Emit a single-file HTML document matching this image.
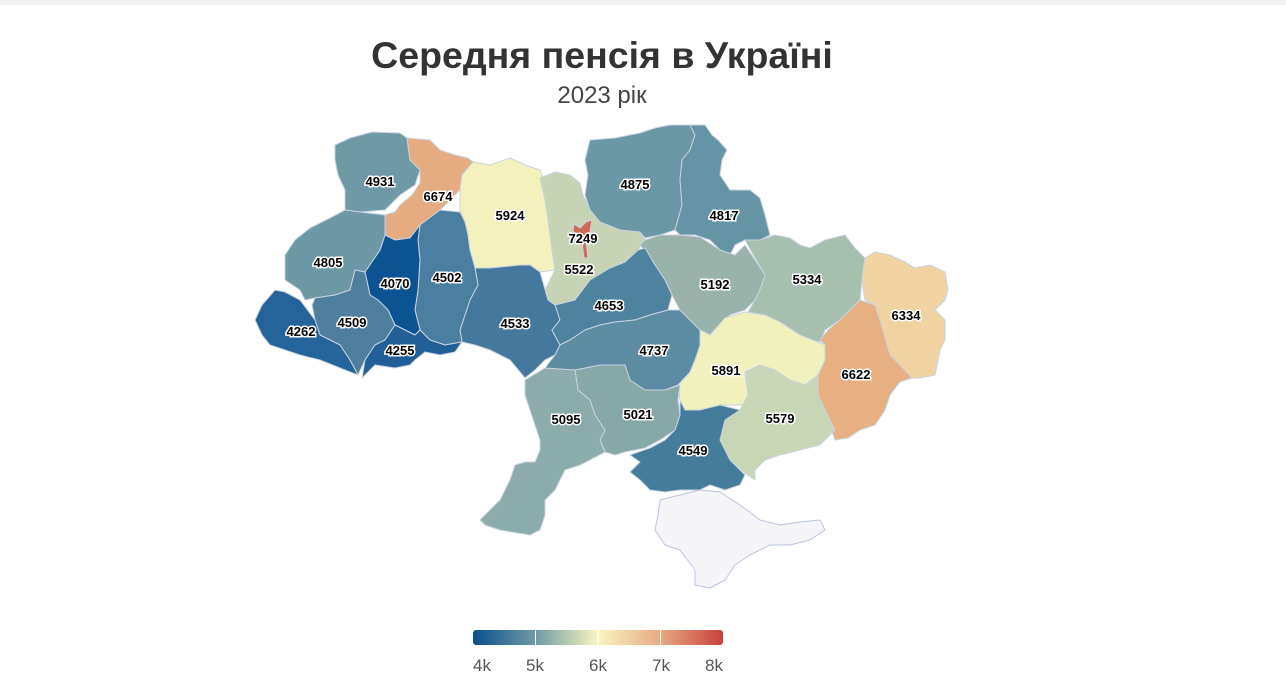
<!DOCTYPE html>
<html><head><meta charset="utf-8"><style>
html,body{margin:0;padding:0;background:#fff;width:1286px;height:684px;overflow:hidden;font-family:"Liberation Sans",sans-serif}
</style></head><body>
<div style="position:absolute;top:0;left:0;width:1286px;height:5px;background:#f3f3f3"></div>
<svg width="1286" height="684" style="position:absolute;top:0;left:0">
<defs><linearGradient id="g" x1="0" x2="1"><stop offset="0" stop-color="#0b4f8e"/><stop offset="0.25" stop-color="#6f9aa5"/><stop offset="0.5" stop-color="#f8f6c0"/><stop offset="0.75" stop-color="#e8a982"/><stop offset="1" stop-color="#c8413a"/></linearGradient></defs>
<text x="602" y="68" text-anchor="middle" font-size="37.5" font-weight="bold" fill="#333">Середня пенсія в Україні</text>
<text x="602" y="103" text-anchor="middle" font-size="24" fill="#444">2023 рік</text>
<g stroke="#c9d3e0" stroke-width="1" stroke-linejoin="round">
<polygon fill="#f5f5f7" stroke="#b8c4e0" points="660,500 680,495 700,490 720,492 740,505 760,520 780,525 800,522 820,520 825,530 810,540 790,545 770,545 750,555 735,565 725,580 710,588 695,585 695,570 680,550 665,545 655,530 658,515"/>
<polygon fill="#6f9aa5" points="335,145 350,138 372,132 400,133 407,138 410,160 420,170 415,185 400,195 385,210 360,212 345,210 345,190 338,175 335,160"/>
<polygon fill="#e5ac82" points="407,138 430,140 440,150 455,155 468,158 473,162 462,175 460,190 450,200 440,210 430,220 420,225 410,238 395,240 385,235 385,215 395,212 400,205 412,195 420,183 420,170 410,160"/>
<polygon fill="#f3f2bd" points="473,162 490,165 510,158 525,165 540,170 545,185 548,205 550,225 552,250 555,270 540,272 530,265 520,265 490,268 475,268 470,250 468,235 465,222 460,210 460,190 462,175"/>
<polygon fill="#c6d3b5" points="540,178 555,172 570,175 580,183 583,195 590,210 600,222 615,228 630,228 640,232 645,240 638,250 625,262 610,268 590,280 575,300 555,305 548,300 545,290 555,270 552,250 548,220 545,200"/>
<polygon fill="#cf6b55" points="574,224 580,228 586,222 592,220 590,232 586,240 588,258 584,258 582,242 576,238 573,230"/>
<polygon fill="#6a98a4" points="590,140 615,138 640,133 655,128 670,125 690,125 695,135 690,150 682,160 680,180 682,205 675,230 660,235 645,238 640,232 620,230 600,222 590,210 585,195 588,175 585,160"/>
<polygon fill="#6595a5" points="690,125 705,125 712,135 718,140 727,150 722,160 720,175 730,190 750,190 760,198 765,215 770,235 760,240 745,240 735,245 730,255 720,250 710,240 695,235 680,235 675,230 682,205 680,180 682,160 690,150 695,135"/>
<polygon fill="#99b3ab" points="645,240 660,235 680,235 700,237 720,250 735,255 745,245 755,260 765,275 760,290 755,300 745,310 730,315 715,330 710,335 700,330 690,320 680,310 672,295 665,280 655,265 648,255 640,245"/>
<polygon fill="#a6bfae" points="745,240 760,240 775,235 790,238 800,245 810,248 825,240 845,235 855,248 865,258 862,280 860,300 840,320 825,330 820,342 810,340 798,335 780,322 765,315 748,312 755,300 762,285 765,275 755,258"/>
<polygon fill="#f1d3a1" points="865,258 875,252 890,255 905,262 915,268 930,265 945,272 948,290 945,300 935,310 945,320 945,340 940,350 935,375 920,378 905,378 900,365 890,355 880,320 875,305 865,300 862,280"/>
<polygon fill="#e6b083" points="860,300 875,305 880,320 890,355 900,365 912,378 900,382 890,395 885,410 875,425 860,430 848,438 835,440 825,410 818,395 818,375 825,360 825,345 820,340 828,330 840,320"/>
<polygon fill="#f1f1bd" points="700,330 710,335 725,318 745,312 765,315 780,322 800,335 818,342 825,345 825,360 818,375 805,385 790,380 775,370 760,365 745,372 748,395 745,405 720,405 700,410 685,410 680,400 678,385 690,372 695,360 700,345"/>
<polygon fill="#c9d6b5" points="745,372 760,365 775,370 790,380 805,385 818,375 818,395 825,410 835,430 820,445 800,450 780,455 765,460 755,470 755,480 740,470 730,460 720,440 725,420 740,410 748,395"/>
<polygon fill="#457c9b" points="680,400 685,410 700,410 720,405 740,410 725,420 720,440 730,460 745,475 740,485 725,490 710,485 700,490 680,490 665,492 650,490 640,480 630,472 640,462 630,455 650,448 665,440 675,430 680,415"/>
<polygon fill="#86a9a8" points="575,370 600,365 625,365 630,380 645,390 665,390 680,385 678,400 680,415 675,430 660,440 645,448 625,452 615,455 605,452 600,440 605,430 595,415 590,400 578,390"/>
<polygon fill="#8cabab" points="525,380 545,368 575,370 578,390 590,400 595,415 605,430 600,440 605,452 590,460 580,465 565,470 560,480 555,490 545,500 545,515 540,530 530,535 500,530 485,525 480,520 490,510 500,500 510,480 515,465 525,462 535,462 540,450 540,440 535,425 530,410 525,395"/>
<polygon fill="#44789d" points="475,268 490,268 520,265 530,265 540,272 548,300 555,305 560,320 552,330 560,345 555,355 545,360 535,370 525,378 520,372 510,360 500,355 490,350 475,345 462,342 460,330 465,315 470,300 478,285"/>
<polygon fill="#4e83a0" points="555,305 575,300 590,280 610,268 625,262 638,250 645,248 655,265 665,280 672,295 668,310 650,315 635,320 615,322 600,325 585,330 570,340 560,345 552,330 560,320"/>
<polygon fill="#5c8ca2" points="560,345 570,340 585,330 600,325 615,322 635,320 650,315 668,310 680,310 690,320 700,330 700,345 695,360 690,372 678,385 665,390 645,390 630,380 625,365 600,365 575,370 545,368 555,355"/>
<polygon fill="#4a7fa1" points="420,225 440,210 460,212 465,222 468,235 470,250 475,268 478,285 470,300 465,315 460,330 462,342 445,345 430,340 420,330 415,310 418,290 420,260 418,240"/>
<polygon fill="#0b5392" points="385,235 395,240 410,238 420,225 418,240 420,260 418,290 415,310 420,330 415,335 405,330 395,325 388,310 378,300 370,295 365,272 380,250"/>
<polygon fill="#6d98a6" points="345,210 360,212 385,215 385,235 380,250 365,272 355,270 350,290 335,295 315,298 305,300 300,290 285,280 285,255 295,240 310,228 330,218"/>
<polygon fill="#4e7f9f" points="315,298 335,295 350,290 355,270 365,272 370,295 378,300 388,310 395,325 385,340 375,345 365,360 358,375 350,360 340,345 320,335 315,320 312,305"/>
<polygon fill="#24649a" points="255,320 262,305 275,290 285,292 300,300 315,320 320,335 340,345 350,360 358,375 345,370 320,360 300,355 285,350 270,345 262,335"/>
<polygon fill="#225f96" points="365,360 375,345 385,340 395,325 405,330 415,335 420,330 430,340 445,345 462,342 455,352 440,355 425,352 415,360 410,365 395,368 375,365 362,378"/>
</g>
<g font-size="13" font-weight="bold" fill="#000" stroke="#fff" stroke-width="3" paint-order="stroke" text-anchor="middle">
<text x="380" y="186">4931</text><text x="438" y="201">6674</text><text x="510" y="220">5924</text>
<text x="583" y="243">7249</text><text x="579" y="274">5522</text><text x="635" y="189">4875</text>
<text x="724" y="220">4817</text><text x="715" y="289">5192</text><text x="807" y="284">5334</text>
<text x="906" y="320">6334</text><text x="856" y="379">6622</text><text x="726" y="375">5891</text>
<text x="780" y="423">5579</text><text x="693" y="455">4549</text><text x="638" y="419">5021</text>
<text x="566" y="424">5095</text><text x="515" y="328">4533</text><text x="609" y="310">4653</text>
<text x="654" y="355">4737</text><text x="447" y="282">4502</text><text x="395" y="288">4070</text>
<text x="328" y="267">4805</text><text x="352" y="327">4509</text><text x="301" y="336">4262</text>
<text x="400" y="355">4255</text>
</g>
<rect x="473" y="630" width="250" height="15" rx="3" fill="url(#g)"/>
<line x1="535.5" y1="630" x2="535.5" y2="645" stroke="#fff"/><line x1="598" y1="630" x2="598" y2="645" stroke="#fff"/><line x1="660.5" y1="630" x2="660.5" y2="645" stroke="#fff"/>
<g font-size="17" fill="#555" text-anchor="middle">
<text x="482" y="671">4k</text><text x="535" y="671">5k</text><text x="598" y="671">6k</text><text x="661" y="671">7k</text><text x="714" y="671">8k</text>
</g>
</svg>
</body></html>
